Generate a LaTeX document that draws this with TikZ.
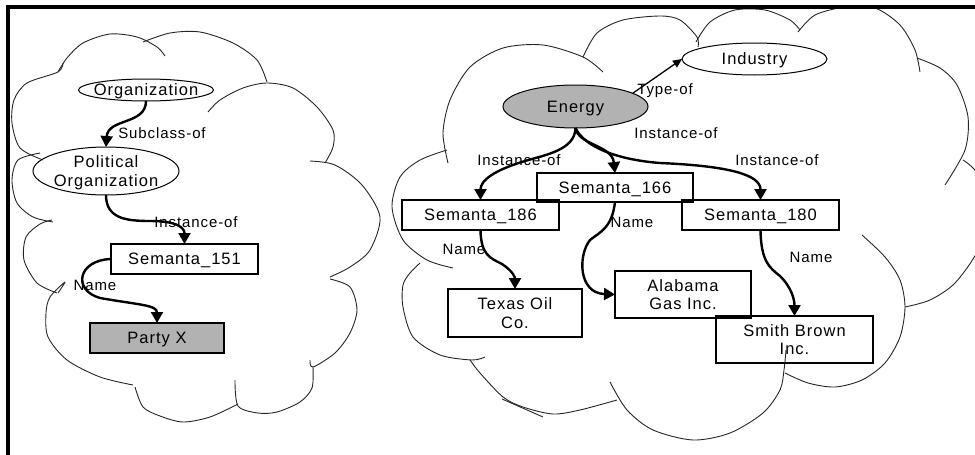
\documentclass[tikz,border=0pt]{standalone}
\usepackage{fontspec}
\setmainfont{Liberation Sans}[LetterSpace=6]
\usetikzlibrary{arrows.meta,shapes.geometric}
\begin{document}
\begin{tikzpicture}[x=1pt,y=-1pt,
  cloudline/.style={draw=black!85,line width=0.9pt,line join=round},
  concept/.style={draw,ellipse,line width=1pt,inner xsep=-25pt,inner ysep=0pt,outer sep=0pt,
    font=\fontsize{16.5}{18.5}\selectfont,align=center},
  inst/.style={draw,rectangle,line width=1.3pt,inner sep=0pt,outer sep=0pt,
    font=\fontsize{16.5}{18.5}\selectfont,align=center},
  oneline/.style={text height=11.8pt,text depth=0pt},
  twoline/.style={text height=30.3pt,text depth=0pt},
  shaded/.style={fill=gray!60},
  rel/.style={line width=2.4pt,-{Triangle[length=11pt,width=12pt]}},
  thinrel/.style={line width=1.3pt,-{Triangle[length=9pt,width=8pt]}},
  lbl/.style={inner sep=0pt,font=\fontsize{15}{17}\selectfont,text height=10.7pt,text depth=0pt}]
\useasboundingbox (0,0) rectangle (975,455);

% ---- cloud outlines ----
\begin{scope}
\clip (8,7) rectangle (975,455);
% left cloud
\draw[cloudline] plot[smooth] coordinates {(43,160) (20,148) (12,123) (14,100) (27,83) (58,72) (63,63)};
\draw[cloudline] plot[smooth] coordinates {(58,72) (67,58) (83,43) (110,34) (137,37) (157,47) (165,56)};
\draw[cloudline] plot[smooth] coordinates {(143,42) (170,33) (200,32) (233,43) (257,60) (267,82)};
\draw[cloudline] plot[smooth] coordinates {(208,112) (220,100) (243,88) (267,83) (293,88) (317,107) (333,130) (333,147) (325,163)};
\draw[cloudline] plot[smooth] coordinates {(310,161) (335,165) (362,185) (380,217) (370,250) (350,267) (330,277)};
\draw[cloudline] plot[smooth] coordinates {(330,279) (350,287) (357,310) (350,333) (335,353) (313,367) (310,360)};
\draw[cloudline] plot[smooth] coordinates {(313,367) (312,388) (300,402) (277,412) (258,413) (238,406) (235,380)};
\draw[cloudline] plot[smooth] coordinates {(238,404) (210,417) (183,422) (160,416) (143,407) (135,387)};
\draw[cloudline] plot[smooth] coordinates {(133,385) (100,377) (67,360) (48,337) (46,313) (50,297) (65,282) (58,293)};
\draw[cloudline] plot[smooth] coordinates {(57,293) (37,283) (24,260) (26,237) (40,224) (52,220)};
\draw[cloudline] plot[smooth] coordinates {(53,222) (33,217) (17,203) (12,180) (18,160) (40,153)};
% right cloud
\draw[cloudline] plot[smooth] coordinates {(448,163) (443,133) (450,100) (470,67) (503,48) (543,45) (583,57) (603,72)};
\draw[cloudline] plot[smooth] coordinates {(583,57) (597,33) (623,20) (660,16) (680,20) (697,37) (698,47)};
\draw[cloudline] plot[smooth] coordinates {(696,42) (710,22) (735,10) (765,10) (790,20) (800,30)};
\draw[cloudline] plot[smooth] coordinates {(798,32) (815,15) (845,7) (875,8) (900,25) (915,50) (920,72)};
\draw[cloudline] plot[smooth] coordinates {(917,58) (940,68) (957,85) (968,117) (965,150) (945,185)};
\draw[cloudline] plot[smooth] coordinates {(963,160) (978,175) (985,215) (978,250) (955,283) (930,300) (905,307)};
\draw[cloudline] plot[smooth] coordinates {(862,235) (885,257) (900,280) (905,307) (900,337) (885,363) (862,380) (835,387) (808,383) (785,373)};
\draw[cloudline] plot[smooth] coordinates {(786,350) (784,370) (780,390) (763,413) (730,433) (693,440) (653,430) (627,410) (610,382)};
\draw[cloudline] plot[smooth] coordinates {(617,400) (580,410) (553,414) (523,407) (503,397) (480,373) (470,360)};
\draw[cloudline] (502,399) -- (543,417);
\draw[cloudline] plot[smooth] coordinates {(485,357) (472,360) (440,355) (413,337) (403,307) (403,285) (410,273) (420,263)};
\draw[cloudline] plot[smooth] coordinates {(453,268) (427,260) (403,240) (392,207) (400,177) (420,160) (447,150)};
\end{scope}

% ---- frame ----
\draw[line width=4pt,line join=miter] (8,455) -- (8,7) -- (975,7);

% ---- nodes ----
\node[concept,minimum width=135pt,minimum height=22pt,oneline] (org) at (146,90) {Organization};
\node[concept,minimum width=146pt,minimum height=48pt,twoline] (pol) at (106,171) {Political\\Organization};
\node[inst,minimum width=147pt,minimum height=30pt,oneline] (s151) at (184.5,259) {Semanta\_151};
\node[inst,shaded,minimum width=134pt,minimum height=30pt,oneline] (party) at (157,338) {Party X};

\node[concept,shaded,minimum width=145pt,minimum height=43pt,oneline] (energy) at (575.5,106.5) {Energy};
\node[concept,minimum width=145pt,minimum height=32pt,oneline] (industry) at (754.5,59) {Industry};
\node[inst,minimum width=156pt,minimum height=29pt,oneline] (s166) at (615,187.5) {Semanta\_166};
\node[inst,minimum width=157pt,minimum height=30pt,oneline] (s186) at (480.5,215) {Semanta\_186};
\node[inst,minimum width=157pt,minimum height=30pt,oneline] (s180) at (760.5,215) {Semanta\_180};
\node[inst,minimum width=134pt,minimum height=48pt,twoline] (texas) at (515,313) {Texas Oil\\Co.};
\node[inst,minimum width=136pt,minimum height=47pt,twoline] (alabama) at (683,294.5) {Alabama\\Gas Inc.};
\node[inst,minimum width=157pt,minimum height=47pt,twoline] (smith) at (794.5,339.5) {Smith Brown\\Inc.};

% ---- relations ----
\draw[rel] (org.south) .. controls (146,125) and (108,118) .. (pol.north);
\draw[rel] (pol.south) .. controls (106,218) and (125,221) .. (150,221) .. controls (178,221) and (184.5,228) .. (s151.north);
\draw[rel] (s151.west) .. controls (78,260) and (72,290) .. (100,298) .. controls (140,305) and (157,305) .. (party.north);

\draw[thinrel] (energy.13) -- (industry.west);
\draw[rel] (energy.south) .. controls (575,150) and (545,155) .. (525,161) .. controls (495,170) and (480.5,180) .. (s186.north);
\draw[rel] (energy.south) .. controls (578,145) and (612,145) .. (s166.north);
\draw[rel] (energy.south) .. controls (585,148) and (620,160) .. (660,163) .. controls (730,166) and (760.5,175) .. (s180.north);
\draw[rel] (s186.south) .. controls (481,255) and (490,258) .. (502,264) .. controls (514,272) and (515,278) .. (texas.north);
\draw[rel] (s166.south) .. controls (612,228) and (600,232) .. (590,240) .. controls (578,255) and (578,293) .. (alabama.west);
\draw[rel] (s180.south) .. controls (761,262) and (770,268) .. (780,276) .. controls (792,288) and (794.5,300) .. (smith.north);

% ---- relation labels ----
\node[lbl] (l1) at (162,133) {Subclass-of};
\node[lbl] (l2) at (196,222) {Instance-of};
\node[lbl] (l3) at (95,285) {Name};
\node[lbl] (l4) at (665,89) {Type-of};
\node[lbl] (l5) at (676,133) {Instance-of};
\node[lbl] (l6) at (519,160) {Instance-of};
\node[lbl] (l7) at (777,160) {Instance-of};
\node[lbl] (l8) at (464,249) {Name};
\node[lbl] (l9) at (632,222) {Name};
\node[lbl] (l10) at (811,257) {Name};
\end{tikzpicture}
\end{document}
